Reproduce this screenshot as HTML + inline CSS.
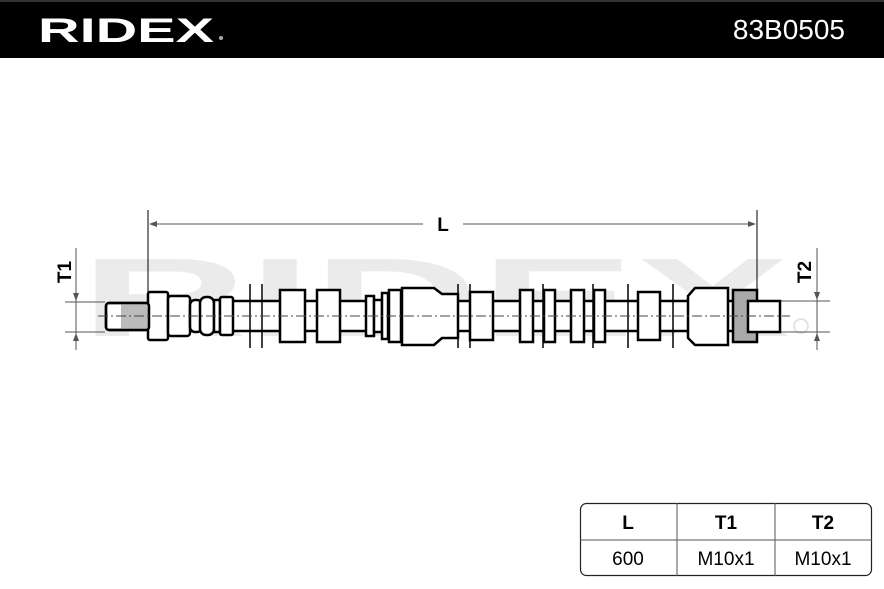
<!DOCTYPE html>
<html><head><meta charset="utf-8"><style>
html,body{margin:0;padding:0;background:#fff}
body{width:884px;height:589px;position:relative;overflow:hidden;font-family:"Liberation Sans",sans-serif}
</style></head><body>
<svg width="884" height="589" viewBox="0 0 884 589" xmlns="http://www.w3.org/2000/svg" style="position:absolute;left:0;top:0">
<rect x="0" y="0" width="884" height="58" fill="#000"/>
<rect x="0" y="0" width="884" height="2" fill="#333"/>
<text x="38" y="42" fill="#fff" font-size="34" font-weight="bold" font-family="Liberation Sans,sans-serif" textLength="176" lengthAdjust="spacingAndGlyphs">RIDEX</text>
<circle cx="221" cy="38" r="2" fill="#aaa"/>
<text x="845" y="39" fill="#fff" font-size="28" text-anchor="end" font-family="Liberation Sans,sans-serif">83B0505</text>

<!-- watermark -->
<text x="80" y="336" fill="#ebebeb" font-size="112" font-weight="bold" textLength="710" lengthAdjust="spacingAndGlyphs">RIDEX</text>
<circle cx="801" cy="326" r="7" fill="none" stroke="#e4e4e4" stroke-width="2"/>

<g stroke="#000" fill="none" stroke-width="1">
<line x1="148" y1="210" x2="148" y2="298"/>
<line x1="757" y1="210" x2="757" y2="290"/>
<line x1="150" y1="224" x2="423" y2="224" stroke="#555"/>
<line x1="463" y1="224" x2="755" y2="224" stroke="#555"/>
<line x1="65" y1="302" x2="105" y2="302" stroke="#555"/>
<line x1="65" y1="332" x2="105" y2="332" stroke="#555"/>
<line x1="76" y1="248" x2="76" y2="350" stroke="#555"/>
<line x1="780" y1="301" x2="830" y2="301" stroke="#555"/>
<line x1="780" y1="332" x2="830" y2="332" stroke="#555"/>
<line x1="817" y1="248" x2="817" y2="350" stroke="#555"/>
</g>
<g fill="#555">
<polygon points="149,224 157,221 157,227"/>
<polygon points="756,224 748,221 748,227"/>
<polygon points="76,301 73,293 79,293"/>
<polygon points="76,333 73,341 79,341"/>
<polygon points="817,300 814,292 820,292"/>
<polygon points="817,333 814,341 820,341"/>
</g>
<text transform="translate(71,272) rotate(-90)" font-size="19" font-weight="bold" text-anchor="middle">T1</text>
<text transform="translate(811,272) rotate(-90)" font-size="19" font-weight="bold" text-anchor="middle">T2</text>
<text x="443" y="231" font-size="19" font-weight="bold" text-anchor="middle">L</text>

<g stroke="#000" stroke-width="2.5" fill="#fff">
<rect x="168" y="301" width="580" height="30"/>
<rect x="106" y="303" width="43" height="27" rx="3" fill="#fff"/>
<rect x="148" y="292" width="20" height="48" rx="2"/>
<rect x="168" y="296" width="22" height="40" rx="3"/>
<rect x="190" y="300" width="12" height="32" rx="5"/>
<rect x="200" y="297" width="14" height="38" rx="6"/>
<rect x="214" y="300" width="6" height="32"/>
<rect x="220" y="297" width="13" height="38" rx="2"/>
<rect x="280" y="290" width="25" height="52"/>
<rect x="317" y="290" width="23" height="52"/>
<rect x="366" y="296" width="8" height="40"/>
<rect x="374" y="300" width="8" height="32"/>
<rect x="382" y="293" width="6" height="46"/>
<rect x="389" y="290" width="12" height="52"/>
<path d="M402,288 H434 L442,294 H458 V338 H442 L434,345 H402 Z"/>
<rect x="470" y="292" width="23" height="48"/>
<rect x="520" y="290" width="13" height="52"/>
<rect x="544" y="290" width="11" height="52"/>
<rect x="571" y="290" width="13" height="52"/>
<rect x="594" y="290" width="11" height="52"/>
<rect x="638" y="292" width="22" height="48"/>
<path d="M688,296 L695,288 H728 V345 H695 L688,338 Z"/>
<rect x="733" y="290" width="24" height="52" fill="#aaa"/>
<rect x="748" y="301" width="32" height="31" fill="#fff"/>
</g>
<g stroke="#000" stroke-width="1.5">
<line x1="250" y1="284" x2="250" y2="348"/>
<line x1="262" y1="284" x2="262" y2="348"/>
<line x1="458" y1="284" x2="458" y2="348"/>
<line x1="470" y1="284" x2="470" y2="348"/>
<line x1="543" y1="284" x2="543" y2="348"/>
<line x1="593" y1="284" x2="593" y2="348"/>
<line x1="628" y1="284" x2="628" y2="348"/>
<line x1="673" y1="284" x2="673" y2="348"/>
</g>
<polygon points="121,304 148,304 148,329 121,329" fill="#bbb"/>
<rect x="106" y="303" width="43" height="27" rx="3" fill="none" stroke="#000" stroke-width="2.5"/>
<line x1="98" y1="316" x2="790" y2="316" stroke="#444" stroke-width="1" stroke-dasharray="10,3,2,3"/>

<rect x="580.5" y="503.5" width="291" height="72" rx="6" fill="#fff" stroke="#222" stroke-width="1.2"/>
<line x1="580" y1="540" x2="872" y2="540" stroke="#555"/>
<line x1="677" y1="503" x2="677" y2="576" stroke="#555"/>
<line x1="775" y1="503" x2="775" y2="576" stroke="#555"/>
<g font-size="19" text-anchor="middle">
<text x="628" y="529" font-weight="bold">L</text>
<text x="726" y="529" font-weight="bold">T1</text>
<text x="823" y="529" font-weight="bold">T2</text>
<text x="628" y="565">600</text>
<text x="726" y="565">M10x1</text>
<text x="823" y="565">M10x1</text>
</g>
</svg>
</body></html>
